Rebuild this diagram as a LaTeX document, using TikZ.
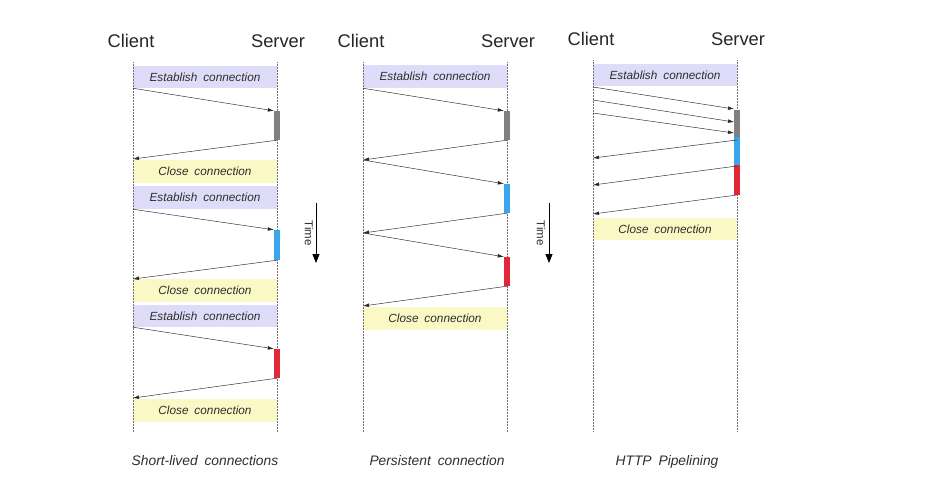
\documentclass[tikz,border=0pt]{standalone}
\usepackage{fontspec}
\setmainfont{Liberation Sans}
\usetikzlibrary{arrows.meta}
\definecolor{estab}{RGB}{222,220,248}
\definecolor{closec}{RGB}{250,248,196}
\definecolor{bargray}{RGB}{128,128,128}
\definecolor{barblue}{RGB}{58,164,236}
\definecolor{barred}{RGB}{226,40,56}
\newcommand{\mywidespace}{\spaceskip=0.5em plus 0.1em\relax}
\newcommand{\lblfont}{\fontsize{11.8}{13}\selectfont\itshape\mywidespace}
\newcommand{\capfont}{\fontsize{13.8}{15}\selectfont\itshape\mywidespace}
\begin{document}
\begin{tikzpicture}[x=1pt,y=-1pt,
  life/.style={draw=black!55, densely dotted, line width=0.5pt},
  lbl/.style={minimum width=144pt, inner sep=0pt, font=\lblfont, text=black!82},
  ebox/.style={lbl, fill=estab},
  cbox/.style={lbl, fill=closec},
  msg/.style={draw=black!85, line width=0.45pt, -{Latex[length=6pt,width=3.6pt]}},
  bar/.style={minimum width=6pt, inner sep=0pt, draw=none},
  head/.style={font=\fontsize{18.3}{20}\selectfont, text=black!85},
  captxt/.style={anchor=base, font=\capfont, text=black!82},
  timearrow/.style={draw=black, line width=0.8pt, -{Triangle[length=9pt,width=7pt]}},
  timelbl/.style={rotate=-90, font=\fontsize{11.5}{12}\selectfont, text=black!82}
]
\useasboundingbox[fill=white] (0,0) rectangle (937,488);

% ---------- headings ----------
\node[head] (cl1) at (131,41) {Client};
\node[head] (sv1) at (278,41) {Server};
\node[head] (cl2) at (361,41) {Client};
\node[head] (sv2) at (508,41) {Server};
\node[head] (cl3) at (591,39) {Client};
\node[head] (sv3) at (738,39) {Server};

% ---------- panel 1: short-lived ----------
\node[ebox, minimum height=22pt] (e1) at (205,77) {Establish connection};
\node[cbox, minimum height=23pt] (c1) at (205,171.5) {Close connection};
\node[ebox, minimum height=23pt] (e2) at (205,197.5) {Establish connection};
\node[cbox, minimum height=23pt] (c2) at (205,290.5) {Close connection};
\node[ebox, minimum height=22pt] (e3) at (205,316) {Establish connection};
\node[cbox, minimum height=23pt] (c3) at (205,410.5) {Close connection};

\coordinate (l1t) at (133,62); \coordinate (l1b) at (133,432);
\coordinate (s1t) at (277,62); \coordinate (s1b) at (277,432);
\draw[life] (l1t) -- (l1b);
\draw[life] (s1t) -- (s1b);

\node[bar, fill=bargray, minimum height=29pt] (g1) at (277,125.5) {};
\node[bar, fill=barblue, minimum height=30pt] (b1) at (277,245) {};
\node[bar, fill=barred, minimum height=29pt] (r1) at (277,363.5) {};

\coordinate (a1) at (133,159);
\coordinate (a2) at (133,279);
\coordinate (a3) at (133,398);
\draw[msg] (e1.south west) -- (g1.north west);
\draw[msg] (g1.south) -- (a1);
\draw[msg] (e2.south west) -- (b1.north west);
\draw[msg] (b1.south) -- (a2);
\draw[msg] (e3.south west) -- (r1.north west);
\draw[msg] (r1.south) -- (a3);

\coordinate (t1a) at (316,203); \coordinate (t1b) at (316,263);
\draw[timearrow] (t1a) -- (t1b);
\node[timelbl] (tl1) at (309,233) {Time};

% ---------- panel 2: persistent ----------
\node[ebox, minimum height=23pt] (e4) at (435,76.5) {Establish connection};
\node[cbox, minimum height=23pt] (c4) at (435,318.5) {Close connection};

\coordinate (l2t) at (363,62); \coordinate (l2b) at (363,432);
\coordinate (s2t) at (507,62); \coordinate (s2b) at (507,432);
\draw[life] (l2t) -- (l2b);
\draw[life] (s2t) -- (s2b);

\node[bar, fill=bargray, minimum height=29pt] (g2) at (507,125.5) {};
\node[bar, fill=barblue, minimum height=29pt] (b2) at (507,198.5) {};
\node[bar, fill=barred, minimum height=29pt] (r2) at (507,271.5) {};

\coordinate (p1) at (363,160);
\coordinate (p2) at (363,233);
\coordinate (p3) at (363,306);
\draw[msg] (e4.south west) -- (g2.north west);
\draw[msg] (g2.south) -- (p1);
\draw[msg] (p1) -- (b2.north west);
\draw[msg] (b2.south) -- (p2);
\draw[msg] (p2) -- (r2.north west);
\draw[msg] (r2.south) -- (p3);

\coordinate (t2a) at (549,203); \coordinate (t2b) at (549,263);
\draw[timearrow] (t2a) -- (t2b);
\node[timelbl] (tl2) at (541,233) {Time};

% ---------- panel 3: pipelining ----------
\node[ebox, minimum height=22pt] (e5) at (665,75) {Establish connection};
\node[cbox, minimum height=22pt] (c5) at (665,229) {Close connection};

\coordinate (l3t) at (593,60); \coordinate (l3b) at (593,432);
\coordinate (s3t) at (737,60); \coordinate (s3b) at (737,432);
\draw[life] (l3t) -- (l3b);
\draw[life] (s3t) -- (s3b);

\node[bar, fill=bargray, minimum height=27pt] (g3) at (737,123.5) {};
\node[bar, fill=barblue, minimum height=28pt] (b3) at (737,151) {};
\node[bar, fill=barred, minimum height=30pt] (r3) at (737,180) {};

\coordinate (q1) at (593,87);  \coordinate (k1) at (734,109);
\coordinate (q2) at (593,100); \coordinate (k2) at (734,122);
\coordinate (q3) at (593,113); \coordinate (k3) at (734,133);
\coordinate (m1) at (737,140); \coordinate (n1) at (593,158);
\coordinate (m2) at (737,166); \coordinate (n2) at (593,185);
\coordinate (m3) at (737,195); \coordinate (n3) at (593,214);
\draw[msg] (q1) -- (k1);
\draw[msg] (q2) -- (k2);
\draw[msg] (q3) -- (k3);
\draw[msg] (m1) -- (n1);
\draw[msg] (m2) -- (n2);
\draw[msg] (m3) -- (n3);

% ---------- captions ----------
\node[captxt] (cap1) at (205,465) {Short-lived connections};
\node[captxt] (cap2) at (437,465) {Persistent connection};
\node[captxt] (cap3) at (667,465) {HTTP Pipelining};
\end{tikzpicture}
\end{document}
